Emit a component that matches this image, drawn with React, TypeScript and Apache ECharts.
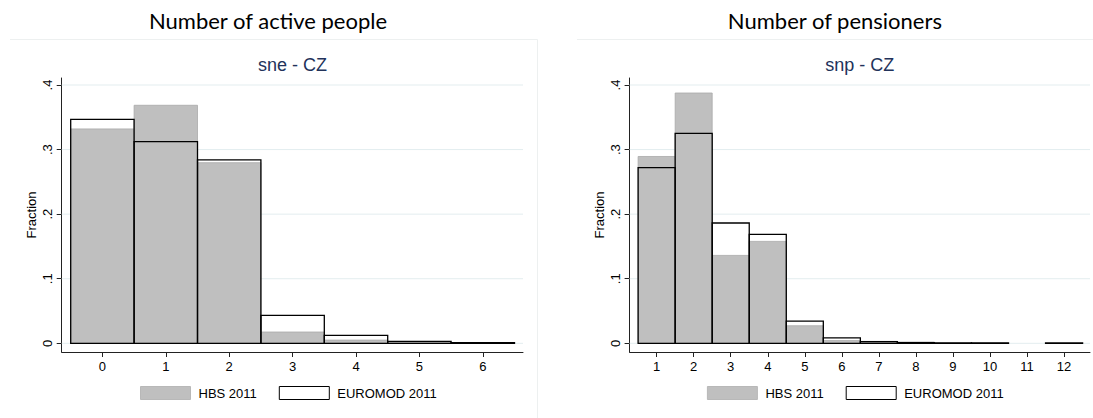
import React, { useEffect, useRef } from "react";
import * as echarts from "echarts";

// ---------- data ----------
const leftCategories = [0, 1, 2, 3, 4, 5, 6];
const leftHBS = [0.332, 0.3686, 0.2797, 0.0175, 0.005, 0.002, 0.0005];
const leftEUROMOD = [0.3469, 0.3122, 0.2839, 0.0434, 0.0124, 0.003, 0.001];

const rightCategories = [1, 2, 3, 4, 5, 6, 7, 8, 9, 10, 11, 12];
const rightHBS = [0.2893, 0.3876, 0.1361, 0.1578, 0.0272, 0.0042, 0.003, 0.002, 0.0003, 0.0003, 0, 0];
const rightEUROMOD = [0.2722, 0.325, 0.1863, 0.1687, 0.0342, 0.0084, 0.0026, 0.001, 0.0005, 0.0005, 0, 0.0005];

const yTickValues = [0, 0.1, 0.2, 0.3, 0.4];
const seriesNames = ["HBS 2011", "EUROMOD 2011"];
const panelTitles = ["Number of active people", "Number of pensioners"];
const panelSubtitles = ["sne - CZ", "snp - CZ"];

const FONT = "'Liberation Sans', Arial, Helvetica, sans-serif";

const fmtY = (v: number) => (v === 0 ? "0" : String(Math.round(v * 10) / 10).replace(/^0/, ""));

function barRender(kind: "hbs" | "em") {
  return (params: any, api: any) => {
    const x = api.value(0);
    const v = api.value(1);
    if (!(v > 0)) return null;
    const p0 = api.coord([x - 0.5, v]);
    const p1 = api.coord([x + 0.5, 0]);
    const style =
      kind === "hbs"
        ? { fill: "#bfbfbf", stroke: "#a9a9a9", lineWidth: 0.8 }
        : { fill: "none", stroke: "#000000", lineWidth: 1.3 };
    return {
      type: "rect",
      shape: { x: p0[0], y: p0[1], width: p1[0] - p0[0], height: p1[1] - p0[1] },
      style,
    };
  };
}

function makeGridRender(xMin: number, xMax: number) {
  return (params: any, api: any) => {
    const v = api.value(1);
    const a = api.coord([xMin, v]);
    const b = api.coord([xMax, v]);
    return {
      type: "line",
      shape: { x1: a[0], y1: a[1], x2: b[0], y2: b[1] },
      style: { stroke: "#e3edef", lineWidth: 1 },
    };
  };
}

export default function App() {
  const ref = useRef<HTMLDivElement>(null);

  useEffect(() => {
    if (!ref.current) return;
    document.body.style.margin = "0";
    const chart = echarts.init(ref.current, null, { renderer: "svg" });

    const grids = [
      { left: 61.7, top: 78, width: 461.3, height: 274 },
      { left: 629.6, top: 78, width: 460.4, height: 274 },
    ];
    const xRanges = [
      [-0.642, 6.634],
      [0.27, 12.7],
    ];
    const xTicks = [leftCategories, rightCategories];
    const offset = 566.9;

    const xAxes = [0, 1].map((i) => ({
      type: "value",
      gridIndex: i,
      min: xRanges[i][0],
      max: xRanges[i][1],
      axisLine: { show: true, onZero: false, lineStyle: { color: "#222", width: 1 } },
      axisTick: { show: true, length: 5, customValues: xTicks[i], lineStyle: { color: "#222" } },
      axisLabel: {
        customValues: xTicks[i],
        color: "#000",
        fontFamily: FONT,
        fontSize: 13,
        margin: 8,
      },
      splitLine: { show: false },
    }));

    const yAxes = [0, 1].map((i) => ({
      type: "value",
      gridIndex: i,
      min: -0.01347,
      max: 0.41084,
      name: "Fraction",
      nameLocation: "middle",
      nameGap: 24,
      nameRotate: 90,
      nameTextStyle: { color: "#000", fontFamily: FONT, fontSize: 13 },
      axisLine: { show: true, onZero: false, lineStyle: { color: "#222", width: 1 } },
      axisTick: { show: true, length: 5, customValues: yTickValues, lineStyle: { color: "#222" } },
      axisLabel: {
        customValues: yTickValues,
        rotate: 90,
        color: "#000",
        fontFamily: FONT,
        fontSize: 13,
        margin: 8,
        formatter: (v: number) => fmtY(v),
      },
      splitLine: { show: false },
    }));

    const hbsData = [leftCategories.map((c, k) => [c, leftHBS[k]]), rightCategories.map((c, k) => [c, rightHBS[k]])];
    const emData = [
      leftCategories.map((c, k) => [c, leftEUROMOD[k]]),
      rightCategories.map((c, k) => [c, rightEUROMOD[k]]),
    ];

    const series: any[] = [];
    [0, 1].forEach((i) => {
      series.push({
        type: "custom",
        name: "grid" + i,
        xAxisIndex: i,
        yAxisIndex: i,
        z: 1,
        silent: true,
        clip: false,
        renderItem: makeGridRender(xRanges[i][0], xRanges[i][1]),
        data: yTickValues.map((v) => [xRanges[i][0], v]),
        encode: { x: 0, y: 1 },
      });
      series.push({
        type: "custom",
        name: seriesNames[0],
        xAxisIndex: i,
        yAxisIndex: i,
        z: 2,
        silent: true,
        renderItem: barRender("hbs"),
        itemStyle: { color: "#bfbfbf", borderColor: "#b3b3b3", borderWidth: 1 },
        data: hbsData[i],
        encode: { x: 0, y: 1 },
      });
      series.push({
        type: "custom",
        name: seriesNames[1],
        xAxisIndex: i,
        yAxisIndex: i,
        z: 3,
        silent: true,
        renderItem: barRender("em"),
        itemStyle: { color: "#ffffff", borderColor: "#000", borderWidth: 1 },
        data: emData[i],
        encode: { x: 0, y: 1 },
      });
    });

    const legends = [0, 1].map((i) => ({
      left: 135 + i * offset,
      top: 381,
      orient: "horizontal",
      itemWidth: 50,
      itemHeight: 13,
      itemGap: 22,
      selectedMode: false,
      icon: "rect",
      textStyle: { color: "#000", fontFamily: FONT, fontSize: 13, padding: [0, 0, 0, 3] },
      data: [
        { name: seriesNames[0], icon: "rect", itemStyle: { color: "#bfbfbf", borderColor: "#b8b8b8", borderWidth: 1 } },
        { name: seriesNames[1], icon: "rect", itemStyle: { color: "#ffffff", borderColor: "#000", borderWidth: 1 } },
      ],
    }));

    const graphic: any[] = [];
    const titleCx = [268, 268 + offset];
    const subCx = [292.4, 292.4 + offset + 0.5];
    [0, 1].forEach((i) => {
      graphic.push({
        type: "text",
        x: titleCx[i],
        y: 20,
        silent: true,
        style: {
          text: panelTitles[i],
          font: "22px Lato, 'Open Sans', sans-serif",
          fill: "#000",
          textAlign: "center",
          textVerticalAlign: "middle",
        },
      });
      graphic.push({
        type: "text",
        x: subCx[i],
        y: 65,
        silent: true,
        style: {
          text: panelSubtitles[i],
          font: "18px " + FONT,
          fill: "#22325a",
          textAlign: "center",
          textVerticalAlign: "middle",
        },
      });
    });
    // faint panel frames
    graphic.push({ type: "line", silent: true, shape: { x1: 10, y1: 39.5, x2: 537.5, y2: 39.5 }, style: { stroke: "#edf0f0", lineWidth: 1 } });
    graphic.push({ type: "line", silent: true, shape: { x1: 537.5, y1: 39.5, x2: 537.5, y2: 418 }, style: { stroke: "#edf0f0", lineWidth: 1 } });
    graphic.push({ type: "line", silent: true, shape: { x1: 577, y1: 39.5, x2: 1093, y2: 39.5 }, style: { stroke: "#edf0f0", lineWidth: 1 } });

    chart.setOption({
      animation: false,
      backgroundColor: "#ffffff",
      grid: grids,
      xAxis: xAxes,
      yAxis: yAxes,
      legend: legends,
      series,
      graphic,
    });

    return () => chart.dispose();
  }, []);

  return (
    <div
      ref={ref}
      style={{ position: "fixed", left: 0, top: 0, width: 1093, height: 418, background: "#fff" }}
    />
  );
}
